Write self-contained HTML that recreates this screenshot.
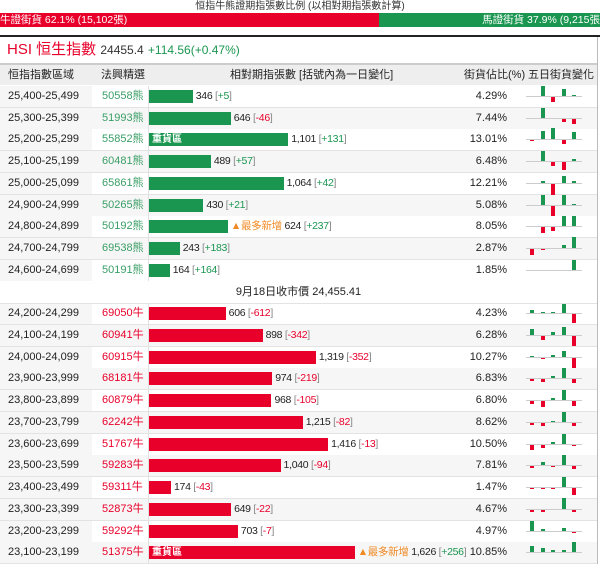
<!DOCTYPE html>
<html><head><meta charset="utf-8"><style>
body{margin:0;width:600px;height:564px;overflow:hidden;background:#fff;font-family:"Liberation Sans","Noto Sans CJK TC",sans-serif;font-size:11px;color:#222;position:relative}
.a{position:absolute;white-space:nowrap}
</style></head><body>
<div class="a" style="left:0;top:0;width:600px;height:13px;text-align:center;font-size:10px;line-height:13px;color:#333">恒指牛熊證期指張數比例 (以相對期指張數計算)</div>
<div class="a" style="left:0;top:13px;width:379px;height:14px;background:#e8002a;color:#fff;font-size:10.5px;line-height:14px">牛證街貨 62.1% (15,102張)</div>
<div class="a" style="left:379px;top:13px;width:221px;height:14px;background:#1a9650;color:#fff;font-size:10.5px;line-height:14px;text-align:right">馬證街貨 37.9% (9,215張</div>
<div class="a" style="left:0;top:35px;width:600px;height:2px;background:#222"></div>
<div class="a" style="left:7px;top:40px;font-size:15px;color:#e8002a;line-height:20px">HSI 恒生指數 <span style="font-size:12px;color:#333">24455.4</span> <span style="font-size:12px;color:#1a9650">+114.56(+0.47%)</span></div>
<div class="a" style="left:0;top:63px;width:598px;height:22px;background:#eee;border-top:2px solid #ccc;box-sizing:border-box;line-height:20px;font-size:11px">
<span class="a" style="left:8px">恒指指數區域</span><span class="a" style="left:101px">法興精選</span><span class="a" style="left:230px">相對期指張數 [括號內為一日變化]</span><span class="a" style="left:464px">街貨佔比(%)</span><span class="a" style="left:528px">五日街貨變化</span></div>
<div id="t"></div>
<div class="a" style="left:597px;top:37px;width:1px;height:527px;background:#bbb"></div>
<script>
const ranges=["25,400-25,499","25,300-25,399","25,200-25,299","25,100-25,199","25,000-25,099","24,900-24,999","24,800-24,899","24,700-24,799","24,600-24,699","24,200-24,299","24,100-24,199","24,000-24,099","23,900-23,999","23,800-23,899","23,700-23,799","23,600-23,699","23,500-23,599","23,400-23,499","23,300-23,399","23,200-23,299","23,100-23,199"];
const codes=["50558熊","51993熊","55852熊","60481熊","65861熊","50265熊","50192熊","69538熊","50191熊","69050牛","60941牛","60915牛","68181牛","60879牛","62242牛","51767牛","59283牛","59311牛","52873牛","59292牛","51375牛"];
const contracts=[346,646,1101,489,1064,430,624,243,164,606,898,1319,974,968,1215,1416,1040,174,649,703,1626];
const changes=[5,-46,131,57,42,21,237,183,164,-612,-342,-352,-219,-105,-82,-13,-94,-43,-22,-7,256];
const pcts=["4.29%","7.44%","13.01%","6.48%","12.21%","5.08%","8.05%","2.87%","1.85%","4.23%","6.28%","10.27%","6.83%","6.80%","8.62%","10.50%","7.81%","1.47%","4.67%","4.97%","10.85%"];
const spark=[[0,10,-5,7,1],[0,10,0,-3,-5],[-1,8,11,-4,7],[0,10,-4,-8,2],[0,2,-11,7,2],[0,10,-10,10,1],[0,-6,-4,10,10],[-6,-1,0,3,11],[0,0,0,0,10],
[3,1,1,10,-9],[6,-4,3,8,-10],[1,-1,2,6,-10],[-2,-3,2,10,-4],[-3,-6,2,10,-5],[-2,-3,1,10,-3],[-5,-3,2,10,-1],[-2,3,-1,10,-3],[-1,-1,-1,10,-7],[-2,-2,0,11,-2],[10,2,0,3,-1],[6,4,2,2,10]];
const heavy=[2,20], most=[6,20];
const scale=0.1265;
const t=document.getElementById('t');
function fmt(n){return n.toLocaleString('en-US');}
ranges.forEach((r,i)=>{
  const bull=i>=9;
  const top=bull?303+(i-9)*21.75:86+i*21.7;
  const row=document.createElement('div');
  
  
  row.className='a';
  row.style.cssText=`left:0;top:${top}px;width:597px;height:21px;border-bottom:1px solid #e3e3e3;background:${i%2==(bull?1:0)?'#fff':'#f6f6f6'};line-height:21px`;
  const g=bull?'#e8002a':'#1a9650';
  const bw=contracts[i]*scale;
  let label=heavy.includes(i)?'<span style="position:absolute;left:3px;top:0;line-height:13px;color:#fff;font-weight:bold;font-size:10px">重貨區</span>':'';
  let mostTxt=most.includes(i)?'<span style="color:#f08a24">▲最多新增</span> ':'';
  const cc=changes[i]>=0?'#1a9650':'#e8002a';
  let sp='<span class="a" style="left:526px;top:10px;width:56px;height:1px;background:#ccc"></span>';
  spark[i].forEach((v,k)=>{ if(v==0)return; const h=Math.abs(v);
    sp+=`<span class="a" style="left:${530+k*10.6}px;top:${v>0?10-h:11}px;width:4px;height:${h}px;background:${v>0?'#1a9650':'#e8002a'}"></span>`;});
  row.innerHTML=`<span class="a" style="left:0;width:92px;height:21px;background:#f6f6f6"></span><span class="a" style="left:8px">${r}</span>`+
  `<span class="a" style="left:102px;color:${bull?'#e8002a':'#3a9e66'}">${codes[i]}</span>`+
  `<span class="a" style="left:148px;width:1px;height:21px;background:#e0e0e0"></span>`+
  `<span class="a" style="left:149px;top:4px;width:${bw}px;height:13px;background:${g}">${label}</span>`+
  `<span class="a" style="left:${152+bw}px;font-size:10.5px;letter-spacing:-0.3px">${mostTxt}${fmt(contracts[i])} <span style="color:#888">[</span><span style="color:${cc}">${changes[i]>=0?'+':''}${changes[i]}</span><span style="color:#888">]</span></span>`+
  `<span class="a" style="left:440px;width:67px;text-align:right">${pcts[i]}</span>`+sp;
  t.appendChild(row);
});
</script>
<div class="a" style="left:0;top:281px;width:597px;height:22px;line-height:22px;text-align:center;background:#fff;border-bottom:1px solid #e3e3e3">9月18日收市價 24,455.41</div>
</body></html>
